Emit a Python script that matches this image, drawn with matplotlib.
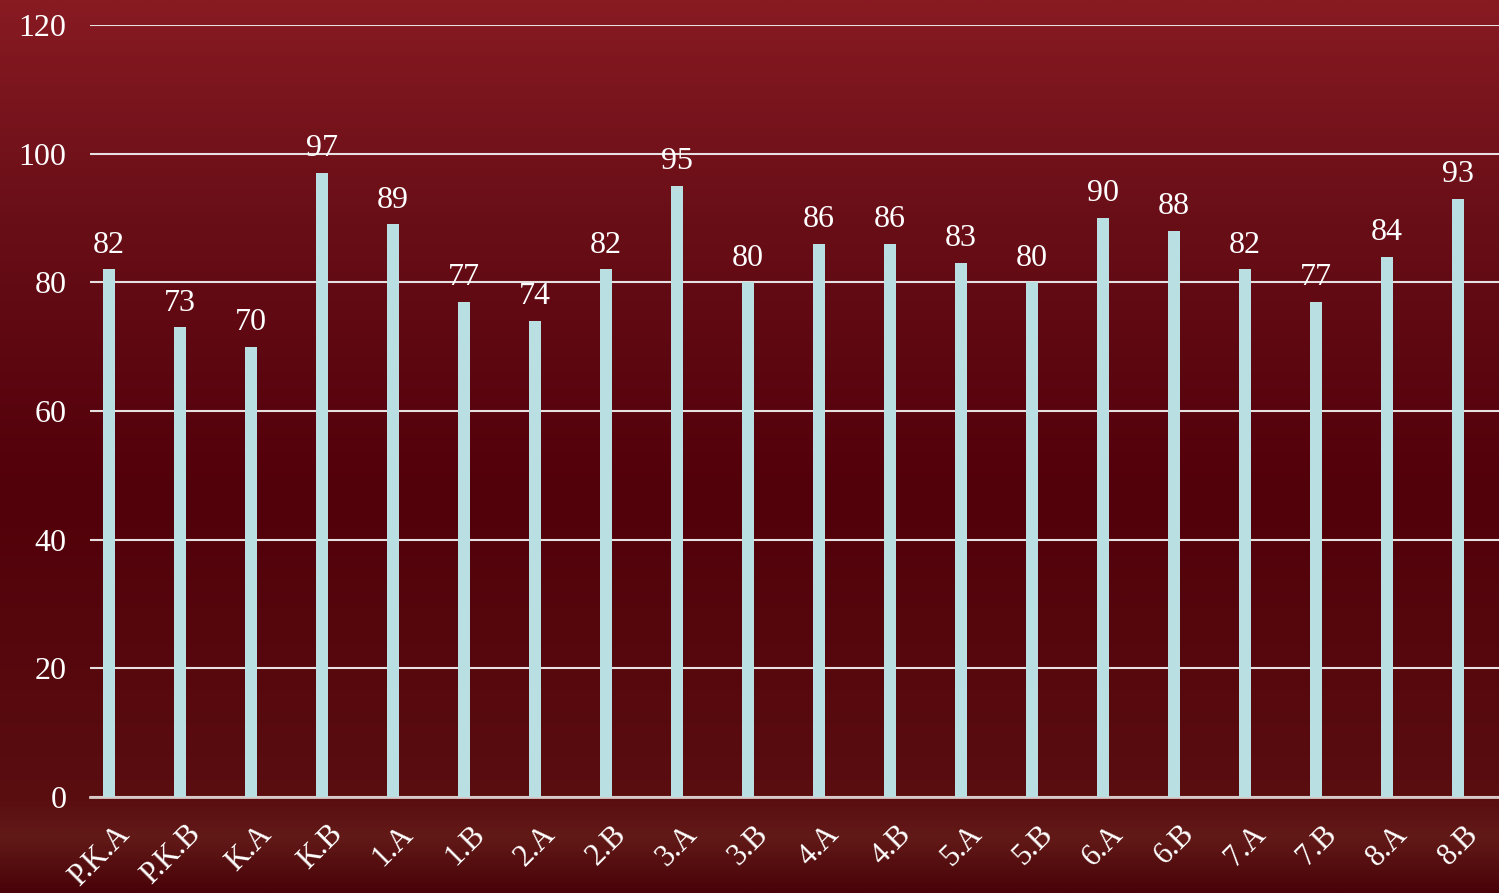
import numpy as np
import matplotlib
matplotlib.use('Agg')
import matplotlib.pyplot as plt
import matplotlib.transforms as mtransforms
from matplotlib.colors import LinearSegmentedColormap

# data
categories = ['P.K.A', 'P.K.B', 'K.A', 'K.B', '1.A', '1.B', '2.A', '2.B', '3.A', '3.B',
              '4.A', '4.B', '5.A', '5.B', '6.A', '6.B', '7.A', '7.B', '8.A', '8.B']
scores = [82, 73, 70, 97, 89, 77, 74, 82, 95, 80,
          86, 86, 83, 80, 90, 88, 82, 77, 84, 93]
yticks = [0, 20, 40, 60, 80, 100, 120]

plt.rcParams['font.family'] = ['Liberation Serif', 'DejaVu Serif']

fig = plt.figure(figsize=(14.99, 8.93), dpi=100)

# background gradient (dark red)
bg = fig.add_axes([0, 0, 1, 1], zorder=0)
cmap = LinearSegmentedColormap.from_list('bg', [
    (0.0, '#4a0308'),
    (0.06, '#621a18'),
    (0.10, '#5a0e10'),
    (0.45, '#52000a'),
    (0.75, '#680e17'),
    (1.0, '#881a22'),
])
grad = np.linspace(0, 1, 400).reshape(-1, 1)
bg.imshow(grad, aspect='auto', cmap=cmap, origin='lower', extent=[0, 1, 0, 1])
bg.axis('off')

ax = fig.add_axes([0.060, 0.1075, 0.94, 0.8645], zorder=1)
ax.patch.set_alpha(0)

x = np.arange(len(categories))
ax.bar(x, scores, width=0.17, color='#b9dfe3', zorder=3)

for xi, v in zip(x, scores):
    ax.text(xi, v + 1.5, str(v), ha='center', va='bottom', color='white', fontsize=23, zorder=4)

ax.set_ylim(0, 120)
ax.set_xlim(-0.27, 19.58)
ax.set_yticks(yticks)
ax.set_yticklabels([str(t) for t in yticks], color='white', fontsize=23)
ax.set_xticks(x)
ax.set_xticklabels(categories, rotation=45, ha='right', rotation_mode='anchor',
                   color='white', fontsize=22)
ax.tick_params(axis='both', length=0)
ax.tick_params(axis='y', pad=17)
ax.tick_params(axis='x', pad=14)

# nudge the slanted labels to the right
shift = mtransforms.ScaledTranslation(6 / 100, -3 / 100, fig.dpi_scale_trans)
for lab in ax.get_xticklabels():
    lab.set_transform(lab.get_transform() + shift)

ax.yaxis.grid(True, color='#e8e0e0', linewidth=1.5, zorder=1)
ax.set_axisbelow(True)
for s in ['top', 'right', 'left']:
    ax.spines[s].set_visible(False)
ax.spines['bottom'].set_color('#d8c8c8')
ax.spines['bottom'].set_linewidth(2)

fig.savefig('out.png', dpi=100)
